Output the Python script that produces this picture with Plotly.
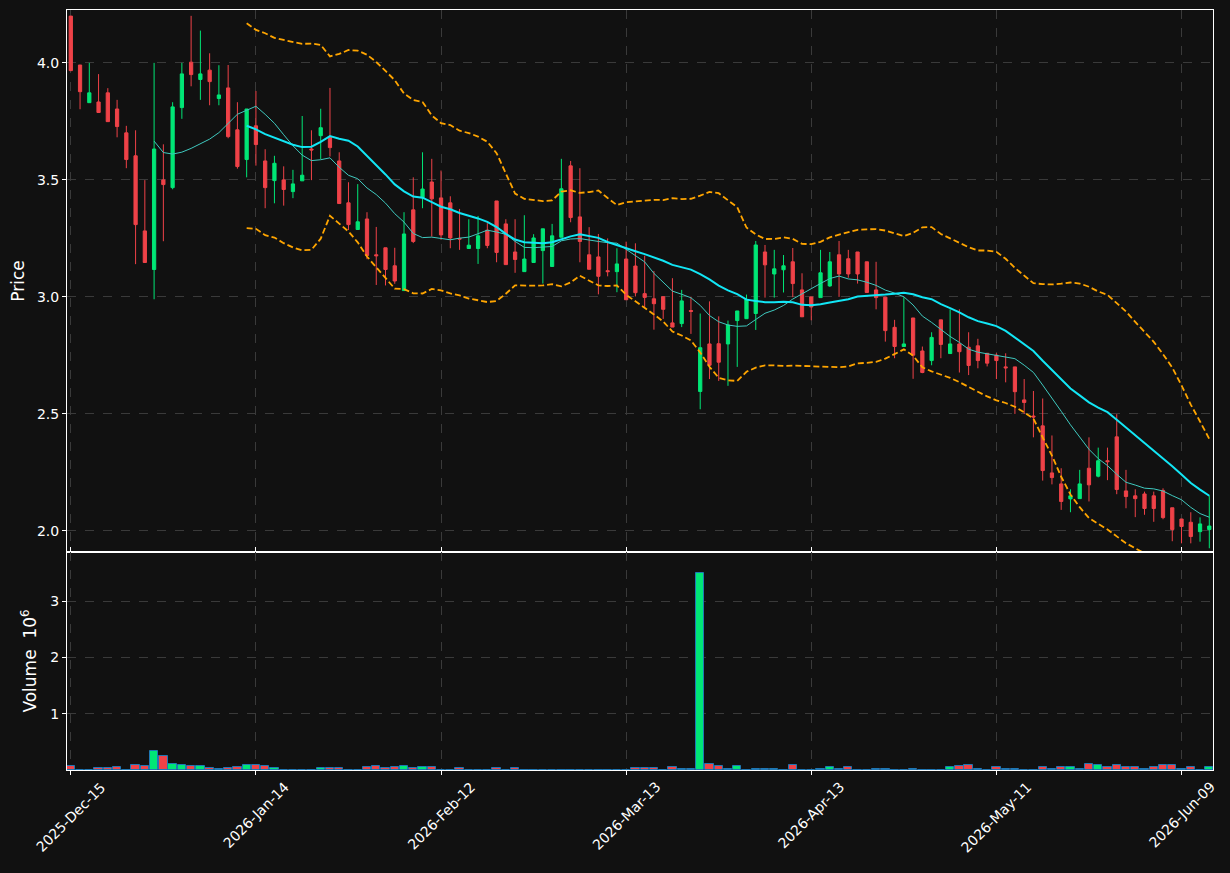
import numpy as np
import pandas as pd
import plotly.graph_objects as go

# ---- data ----
opens = [4.200, 3.991, 3.830, 3.833, 3.872, 3.803, 3.701, 3.603, 3.282, 3.117,
         3.500, 3.467, 3.809, 4.003, 3.929, 3.969, 3.848, 3.893, 3.714, 3.587,
         3.731, 3.581, 3.497, 3.500, 3.450, 3.496, 3.632, 3.689, 3.682, 3.581,
         3.402, 3.288, 3.333, 3.180, 3.210, 3.133, 3.027, 3.372, 3.424, 3.491,
         3.423, 3.402, 3.250, 3.207, 3.207, 3.285, 3.410, 3.312, 3.192, 3.108,
         3.147, 3.198, 3.130, 3.255, 3.560, 3.342, 3.180, 3.171, 3.112, 3.108,
         3.162, 3.132, 3.014, 2.992, 3.001, 2.889, 2.886, 2.942, 2.596, 2.799,
         2.800, 2.799, 2.899, 2.907, 2.929, 3.192, 3.098, 3.116, 3.150, 3.030,
         3.000, 2.997, 3.047, 3.180, 3.163, 3.192, 3.150, 3.030, 2.999, 2.870,
         2.788, 2.910, 2.769, 2.728, 2.902, 2.758, 2.799, 2.785, 2.791, 2.759,
         2.751, 2.701, 2.701, 2.560, 2.491, 2.449, 2.248, 2.201, 2.137, 2.138,
         2.268, 2.234, 2.300, 2.402, 2.171, 2.150, 2.158, 2.150, 2.173, 2.099,
         2.051, 2.037, 1.997, 2.006]
highs = [4.200, 3.991, 4.000, 3.952, 3.892, 3.842, 3.731, 3.712, 3.499, 4.000,
         3.652, 3.832, 4.000, 4.201, 4.138, 4.041, 3.990, 3.991, 3.832, 3.803,
         3.880, 3.631, 3.603, 3.558, 3.543, 3.773, 3.712, 3.804, 3.893, 3.618,
         3.490, 3.482, 3.362, 3.299, 3.210, 3.210, 3.362, 3.511, 3.618, 3.590,
         3.540, 3.430, 3.376, 3.332, 3.346, 3.315, 3.410, 3.332, 3.332, 3.349,
         3.268, 3.291, 3.312, 3.590, 3.581, 3.550, 3.298, 3.269, 3.250, 3.208,
         3.236, 3.229, 3.176, 3.111, 3.001, 3.080, 3.030, 3.001, 2.929, 2.981,
         2.917, 2.899, 2.940, 3.010, 3.239, 3.222, 3.201, 3.179, 3.209, 3.101,
         3.000, 3.201, 3.192, 3.239, 3.201, 3.192, 3.150, 3.150, 2.999, 2.902,
         2.999, 2.910, 2.788, 2.849, 2.902, 2.947, 2.947, 2.849, 2.821, 2.759,
         2.759, 2.759, 2.701, 2.649, 2.598, 2.566, 2.408, 2.268, 2.178, 2.261,
         2.400, 2.356, 2.356, 2.499, 2.261, 2.178, 2.168, 2.168, 2.182, 2.099,
         2.051, 2.080, 2.058, 2.151]
lows = [3.965, 3.802, 3.830, 3.788, 3.749, 3.682, 3.550, 3.140, 3.147, 2.990,
        3.238, 3.460, 3.761, 3.900, 3.842, 3.819, 3.819, 3.678, 3.548, 3.511,
        3.561, 3.379, 3.400, 3.390, 3.422, 3.496, 3.499, 3.589, 3.600, 3.399,
        3.286, 3.288, 3.161, 3.051, 3.049, 3.056, 3.027, 3.230, 3.379, 3.258,
        3.244, 3.208, 3.201, 3.207, 3.141, 3.208, 3.148, 3.138, 3.103, 3.108,
        3.147, 3.057, 3.130, 3.255, 3.319, 3.148, 3.118, 3.011, 3.088, 3.020,
        2.988, 3.002, 2.957, 2.860, 2.906, 2.871, 2.871, 2.842, 2.520, 2.649,
        2.641, 2.620, 2.701, 2.907, 2.859, 2.997, 2.997, 3.019, 2.999, 2.915,
        2.900, 2.997, 3.043, 3.000, 3.082, 3.057, 3.019, 2.947, 2.809, 2.738,
        2.788, 2.650, 2.674, 2.708, 2.738, 2.758, 2.677, 2.666, 2.695, 2.703,
        2.649, 2.635, 2.500, 2.500, 2.400, 2.215, 2.199, 2.090, 2.080, 2.138,
        2.126, 2.229, 2.217, 2.157, 2.097, 2.059, 2.069, 2.039, 2.050, 1.956,
        1.947, 1.947, 1.954, 1.926]
closes = [3.967, 3.877, 3.872, 3.788, 3.749, 3.728, 3.587, 3.309, 3.147, 3.632,
          3.480, 3.812, 3.953, 3.950, 3.953, 3.920, 3.863, 3.685, 3.557, 3.803,
          3.651, 3.467, 3.571, 3.459, 3.483, 3.520, 3.628, 3.723, 3.638, 3.399,
          3.309, 3.321, 3.177, 3.176, 3.117, 3.068, 3.269, 3.237, 3.461, 3.419,
          3.265, 3.252, 3.247, 3.221, 3.261, 3.220, 3.190, 3.138, 3.160, 3.162,
          3.252, 3.291, 3.261, 3.462, 3.339, 3.237, 3.118, 3.088, 3.108, 3.141,
          2.988, 3.018, 2.998, 2.971, 2.947, 2.871, 2.983, 2.938, 2.783, 2.708,
          2.721, 2.880, 2.940, 2.990, 3.222, 3.137, 3.120, 3.133, 3.057, 2.915,
          2.957, 3.103, 3.150, 3.098, 3.098, 3.098, 3.019, 2.997, 2.856, 2.788,
          2.799, 2.751, 2.677, 2.827, 2.797, 2.799, 2.766, 2.707, 2.728, 2.717,
          2.728, 2.697, 2.595, 2.549, 2.487, 2.258, 2.228, 2.126, 2.150, 2.201,
          2.197, 2.300, 2.296, 2.177, 2.147, 2.138, 2.096, 2.096, 2.057, 2.006,
          2.019, 1.976, 2.030, 2.021]
volumes_m = [0.067, 0.008, 0.008, 0.027, 0.027, 0.047, 0.008, 0.087, 0.067, 0.330,
             0.250, 0.107, 0.087, 0.067, 0.067, 0.027, 0.020, 0.027, 0.047, 0.087,
             0.087, 0.067, 0.027, 0.005, 0.005, 0.005, 0.005, 0.027, 0.027, 0.027,
             0.005, 0.005, 0.047, 0.067, 0.027, 0.047, 0.067, 0.027, 0.047, 0.047,
             0.005, 0.005, 0.027, 0.005, 0.005, 0.005, 0.027, 0.005, 0.027, 0.005,
             0.005, 0.005, 0.005, 0.005, 0.005, 0.005, 0.005, 0.005, 0.005, 0.005,
             0.005, 0.027, 0.027, 0.027, 0.005, 0.047, 0.020, 0.020, 3.490, 0.107,
             0.067, 0.020, 0.067, 0.005, 0.020, 0.020, 0.020, 0.005, 0.087, 0.005,
             0.005, 0.020, 0.047, 0.020, 0.047, 0.005, 0.005, 0.020, 0.020, 0.005,
             0.005, 0.020, 0.005, 0.005, 0.005, 0.047, 0.067, 0.087, 0.020, 0.005,
             0.047, 0.020, 0.020, 0.005, 0.005, 0.047, 0.020, 0.047, 0.047, 0.020,
             0.107, 0.087, 0.047, 0.087, 0.047, 0.047, 0.020, 0.047, 0.087, 0.087,
             0.020, 0.047, 0.005, 0.047]
tick_index = [0, 20, 40, 60, 80, 100, 120]
tick_labels = ["2025-Dec-15", "2026-Jan-14", "2026-Feb-12", "2026-Mar-13",
               "2026-Apr-13", "2026-May-11", "2026-Jun-09"]

# ---- derived ----
idx = list(range(len(closes)))
cs = pd.Series(closes)
sma20 = cs.rolling(20).mean()
sma10 = cs.rolling(10).mean()
std20 = cs.rolling(20).std(ddof=0)
bb_up = sma20 + 2 * std20
bb_lo = sma20 - 2 * std20

UP = "#00e676"
DOWN = "#ef4248"
vol_colors = [UP if c >= o else DOWN for o, c in zip(opens, closes)]

fig = go.Figure()
fig.add_trace(go.Candlestick(
    x=idx, open=opens, high=highs, low=lows, close=closes,
    increasing=dict(line=dict(color=UP, width=1), fillcolor=UP),
    decreasing=dict(line=dict(color=DOWN, width=1), fillcolor=DOWN),
    xaxis="x", yaxis="y", showlegend=False))
fig.add_trace(go.Scatter(x=idx, y=bb_up, mode="lines",
                         line=dict(color="#ffa500", width=1.8, dash="6px,3px"),
                         xaxis="x", yaxis="y", showlegend=False))
fig.add_trace(go.Scatter(x=idx, y=bb_lo, mode="lines",
                         line=dict(color="#ffa500", width=1.8, dash="6px,3px"),
                         xaxis="x", yaxis="y", showlegend=False))
fig.add_trace(go.Scatter(x=idx, y=sma10, mode="lines",
                         line=dict(color="#3fc9bf", width=1),
                         xaxis="x", yaxis="y", showlegend=False))
fig.add_trace(go.Scatter(x=idx, y=sma20, mode="lines",
                         line=dict(color="#12e6f5", width=2),
                         xaxis="x", yaxis="y", showlegend=False))
fig.add_trace(go.Bar(x=idx, y=volumes_m, width=0.9,
                     marker=dict(color=vol_colors, line=dict(color="#1f77b4", width=1)),
                     xaxis="x", yaxis="y2", showlegend=False))

BG = "#111111"
GRID = "#3a3a3a"
font = dict(family="DejaVu Sans", size=14, color="#ffffff")
split = (770 - 552) / 760.0

# centred, rotated date labels (like the reference)
annotations = [dict(x=t, y=-0.008, xref="x", yref="paper", text=lab,
                    textangle=-45, showarrow=False, xanchor="center", yanchor="top",
                    font=dict(family="DejaVu Sans", size=14, color="#ffffff"))
               for t, lab in zip(tick_index, tick_labels)]

fig.update_layout(
    width=1230, height=873,
    paper_bgcolor=BG, plot_bgcolor=BG,
    font=font,
    margin=dict(l=67, r=17, t=5, b=103),
    boxgap=0.5,
    bargap=0,
    annotations=annotations,
    xaxis=dict(domain=[0, 1], anchor="y2", range=[-0.41, 123.4],
               tickmode="array", tickvals=tick_index, showticklabels=False,
               ticks="outside", ticklen=4, tickcolor="#ffffff",
               showline=True, linecolor="#ffffff", linewidth=1, mirror="all",
               showgrid=True, gridcolor=GRID, griddash="dash", gridwidth=1,
               zeroline=False, rangeslider=dict(visible=False)),
    yaxis=dict(domain=[split, 1], anchor="x", range=[1.910, 4.226],
               tickmode="array", tickvals=[2.0, 2.5, 3.0, 3.5, 4.0], tickformat=".1f",
               ticks="outside", ticklen=4, tickcolor="#ffffff",
               showline=True, linecolor="#ffffff", linewidth=1, mirror=True,
               showgrid=True, gridcolor=GRID, griddash="dash", gridwidth=1,
               zeroline=False, title=dict(text="Price", standoff=7)),
    yaxis2=dict(domain=[0, split], anchor="x", range=[0, 3.87],
                tickmode="array", tickvals=[1, 2, 3], ticktext=["1", "2", "3"],
                ticks="outside", ticklen=4, tickcolor="#ffffff",
                showline=True, linecolor="#ffffff", linewidth=1, mirror=True,
                showgrid=True, gridcolor=GRID, griddash="dash", gridwidth=1,
                zeroline=False, title=dict(text="Volume  10<sup>6</sup>", standoff=9)),
)

fig.write_html("out.html")
